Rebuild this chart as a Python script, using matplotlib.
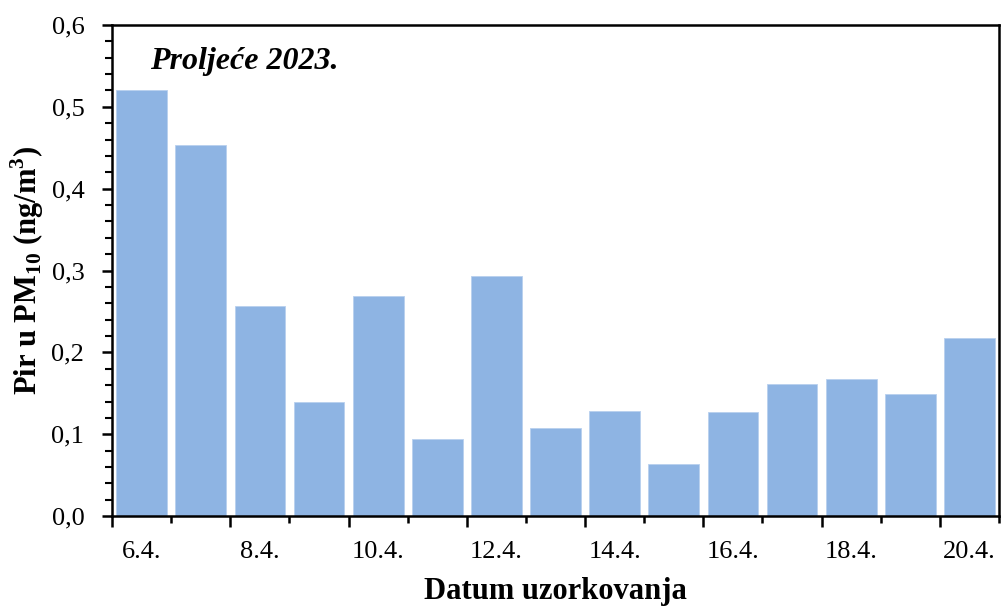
import matplotlib
matplotlib.use('Agg')
import matplotlib.pyplot as plt
from matplotlib.ticker import FuncFormatter, MultipleLocator

# Sampling dates and pyrene concentration (ng/m3), spring 2023
dates = ['6.4.', '7.4.', '8.4.', '9.4.', '10.4.', '11.4.', '12.4.', '13.4.',
         '14.4.', '15.4.', '16.4.', '17.4.', '18.4.', '19.4.', '20.4.']
pir = [0.521, 0.453, 0.257, 0.139, 0.269, 0.094, 0.293, 0.108,
       0.129, 0.064, 0.127, 0.161, 0.167, 0.149, 0.218]

BAR_COLOR = '#8EB4E3'

plt.rcParams['font.family'] = 'Liberation Serif'
plt.rcParams['mathtext.fontset'] = 'custom'
plt.rcParams['mathtext.rm'] = 'Liberation Serif'
plt.rcParams['mathtext.bf'] = 'Liberation Serif:bold'

fig = plt.figure(figsize=(10.01, 6.08), dpi=100)
ax = fig.add_axes([0.112, 0.151, 0.886, 0.808])

x = list(range(len(dates)))
ax.bar(x, pir, width=0.86, color=BAR_COLOR, edgecolor='#B8D0EE', linewidth=0.6)

ax.set_xlim(-0.5, len(dates) - 0.5)
ax.set_ylim(0, 0.6)

# y axis
ax.yaxis.set_major_locator(MultipleLocator(0.1))
ax.yaxis.set_minor_locator(MultipleLocator(0.02))
ax.yaxis.set_major_formatter(FuncFormatter(lambda v, p: f"{v:.1f}".replace('.', ',')))
ax.tick_params(axis='y', which='major', length=7, width=1.8, direction='out', labelsize=19, pad=13)
ax.tick_params(axis='y', which='minor', length=5, width=1.5, direction='out')

# x axis: ticks at category boundaries, long every second
ax.set_xticks([i - 0.5 for i in range(0, len(dates) + 1, 2)])
ax.set_xticks([i - 0.5 for i in range(1, len(dates) + 1, 2)], minor=True)
ax.set_xticklabels([])
ax.tick_params(axis='x', which='major', length=8, width=1.8, direction='out')
ax.tick_params(axis='x', which='minor', length=5, width=1.8, direction='out')

sec = ax.secondary_xaxis('bottom')
sec.set_xticks(x[::2])
sec.set_xticklabels(dates[::2])
sec.tick_params(length=0, labelsize=19, pad=18)
sec.spines['bottom'].set_visible(False)

for s in ax.spines.values():
    s.set_linewidth(1.8)
    s.set_color('black')

ax.set_ylabel('Pir u PM$_{\\mathbf{10}}$ (ng/m$^{\\mathbf{3}}$)', fontsize=22, fontweight='bold', labelpad=4)
sec.set_xlabel('Datum uzorkovanja', fontsize=22, fontweight='bold', labelpad=10)

ax.text(0.043, 0.925, 'Proljeće 2023.', transform=ax.transAxes, fontsize=23,
        fontweight='bold', fontstyle='italic', va='center', ha='left')

fig.savefig('out.png', dpi=100)
